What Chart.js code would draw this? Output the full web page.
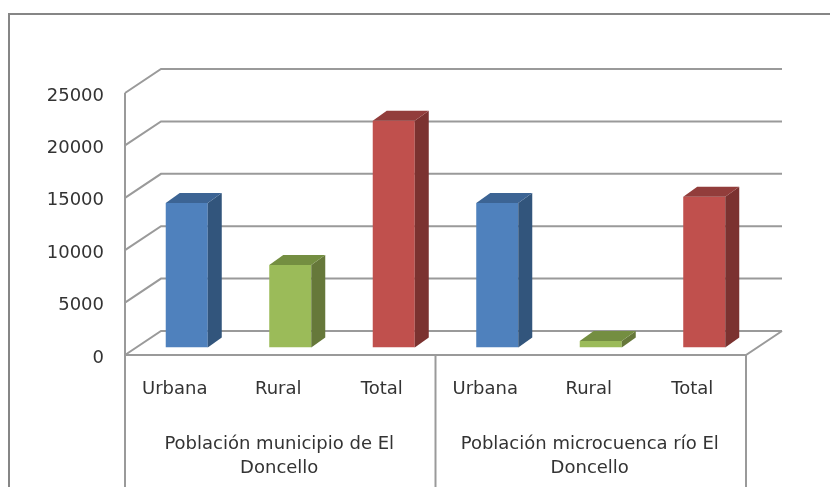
<!DOCTYPE html>
<html>
<head>
<meta charset="utf-8">
<style>
  html, body { margin: 0; padding: 0; background: #fff; }
  #wrap { width: 830px; height: 487px; }
</style>
<script src="https://cdn.jsdelivr.net/npm/chart.js@4"></script>
</head>
<body>
<div id="wrap"><canvas id="chart" width="830" height="487"></canvas></div>
<script>
// Daten
const categories = ["Urbana", "Rural", "Total", "Urbana", "Rural", "Total"];
const poblacion = [13790, 7870, 21640, 13790, 620, 14390];
const groupLabels = [
  ["Población municipio de El", "Doncello"],
  ["Población microcuenca río El", "Doncello"],
];
const groupSize = 3;

// Farben: Front, Seite, Deckel
const frontColors = ["#4f81bd", "#9bbb59", "#c0504d", "#4f81bd", "#9bbb59", "#c0504d"];
const sideColors = ["#32557c", "#66783a", "#7b3230", "#32557c", "#66783a", "#7b3230"];
const topColors = ["#3c6494", "#748e41", "#923d3b", "#3c6494", "#748e41", "#923d3b"];

const LINE = "#9a9a9a";
const TEXT = "#333333";
const FONT = "18px 'DejaVu Sans'";

// Tiefe des 3D-Raums
const WALL_DX = 36;
const WALL_DY = -24;
const BAR_DX = 14;
const BAR_DY = -10;
const BAR_SHIFT_X = 10;
const BAR_SHIFT_Y = -7.5;

function strokeLine(ctx, points) {
  ctx.beginPath();
  points.forEach((p, i) => (i ? ctx.lineTo(p[0], p[1]) : ctx.moveTo(p[0], p[1])));
  ctx.stroke();
}

function fillPoly(ctx, color, points) {
  ctx.fillStyle = color;
  ctx.beginPath();
  points.forEach((p, i) => (i ? ctx.lineTo(p[0], p[1]) : ctx.moveTo(p[0], p[1])));
  ctx.closePath();
  ctx.fill();
}

// Rahmen, Rückwand, Boden und Gruppenbeschriftung
const wallPlugin = {
  id: "wall",
  beforeDatasetsDraw(chart) {
    const ctx = chart.ctx;
    const { left, right, bottom } = chart.chartArea;
    const yScale = chart.scales.y;
    const xScale = chart.scales.x;

    ctx.save();
    // äusserer Rahmen
    ctx.strokeStyle = "#868686";
    ctx.lineWidth = 2;
    strokeLine(ctx, [[9, 487], [9, 14], [830, 14]]);

    ctx.strokeStyle = LINE;
    ctx.lineWidth = 2;

    // Gitterlinien auf der Rückwand
    yScale.ticks.forEach((tick) => {
      const y = yScale.getPixelForValue(tick.value);
      strokeLine(ctx, [
        [left, y],
        [left + WALL_DX, y + WALL_DY],
        [right + WALL_DX, y + WALL_DY],
      ]);
    });

    // linke Wandkante und Boden
    strokeLine(ctx, [[left, yScale.getPixelForValue(yScale.max)], [left, 487]]);
    strokeLine(ctx, [[left, bottom], [right, bottom], [right + WALL_DX, bottom + WALL_DY]]);

    // Trennlinien der Gruppen
    for (let i = groupSize; i <= categories.length; i += groupSize) {
      const x = (xScale.getPixelForValue(i - 1) + xScale.getPixelForValue(i)) / 2;
      strokeLine(ctx, [[x, bottom], [x, 487]]);
    }

    // Gruppenbeschriftung
    ctx.fillStyle = TEXT;
    ctx.font = FONT;
    ctx.textAlign = "center";
    ctx.textBaseline = "middle";
    groupLabels.forEach((lines, g) => {
      const first = xScale.getPixelForValue(g * groupSize);
      const last = xScale.getPixelForValue(g * groupSize + groupSize - 1);
      lines.forEach((line, i) => {
        ctx.fillText(line, (first + last) / 2 - 1, bottom + 89 + i * 24);
      });
    });
    ctx.restore();

    // Balken liegen etwas tiefer im Raum
    ctx.save();
    ctx.translate(BAR_SHIFT_X, BAR_SHIFT_Y);
  },
  afterDatasetsDraw(chart) {
    const ctx = chart.ctx;
    const bars = chart.getDatasetMeta(0).data;

    // Seite und Deckel der Balken
    bars.forEach((bar, i) => {
      const half = bar.width / 2;
      const l = bar.x - half;
      const r = bar.x + half;
      fillPoly(ctx, sideColors[i], [
        [r, bar.y],
        [r + BAR_DX, bar.y + BAR_DY],
        [r + BAR_DX, bar.base + BAR_DY],
        [r, bar.base],
      ]);
      fillPoly(ctx, topColors[i], [
        [l, bar.y],
        [l + BAR_DX, bar.y + BAR_DY],
        [r + BAR_DX, bar.y + BAR_DY],
        [r, bar.y],
      ]);
    });
    ctx.restore();
  },
};

new Chart(document.getElementById("chart"), {
  type: "bar",
  data: {
    labels: categories,
    datasets: [
      {
        data: poblacion,
        backgroundColor: frontColors,
        barPercentage: 0.406,
        categoryPercentage: 1,
      },
    ],
  },
  options: {
    responsive: false,
    animation: false,
    layout: { padding: { top: 93, right: 84, left: 0, bottom: 0 } },
    plugins: {
      legend: { display: false },
      title: { display: false },
      tooltip: { enabled: false },
    },
    scales: {
      x: {
        grid: { display: false },
        border: { display: false },
        ticks: {
          color: TEXT,
          font: { family: "DejaVu Sans", size: 18 },
          padding: 16,
          labelOffset: -2,
          maxRotation: 0,
          autoSkip: false,
        },
        afterFit(scale) {
          scale.height = 132;
        },
      },
      y: {
        min: 0,
        max: 25000,
        grid: { display: false, drawTicks: false },
        border: { display: false },
        ticks: {
          stepSize: 5000,
          color: TEXT,
          font: { family: "DejaVu Sans", size: 18 },
          padding: 21,
          labelOffset: 3,
          callback: (value) => String(value),
        },
        afterFit(scale) {
          scale.width = 125;
        },
      },
    },
  },
  plugins: [wallPlugin],
});
</script>
</body>
</html>
